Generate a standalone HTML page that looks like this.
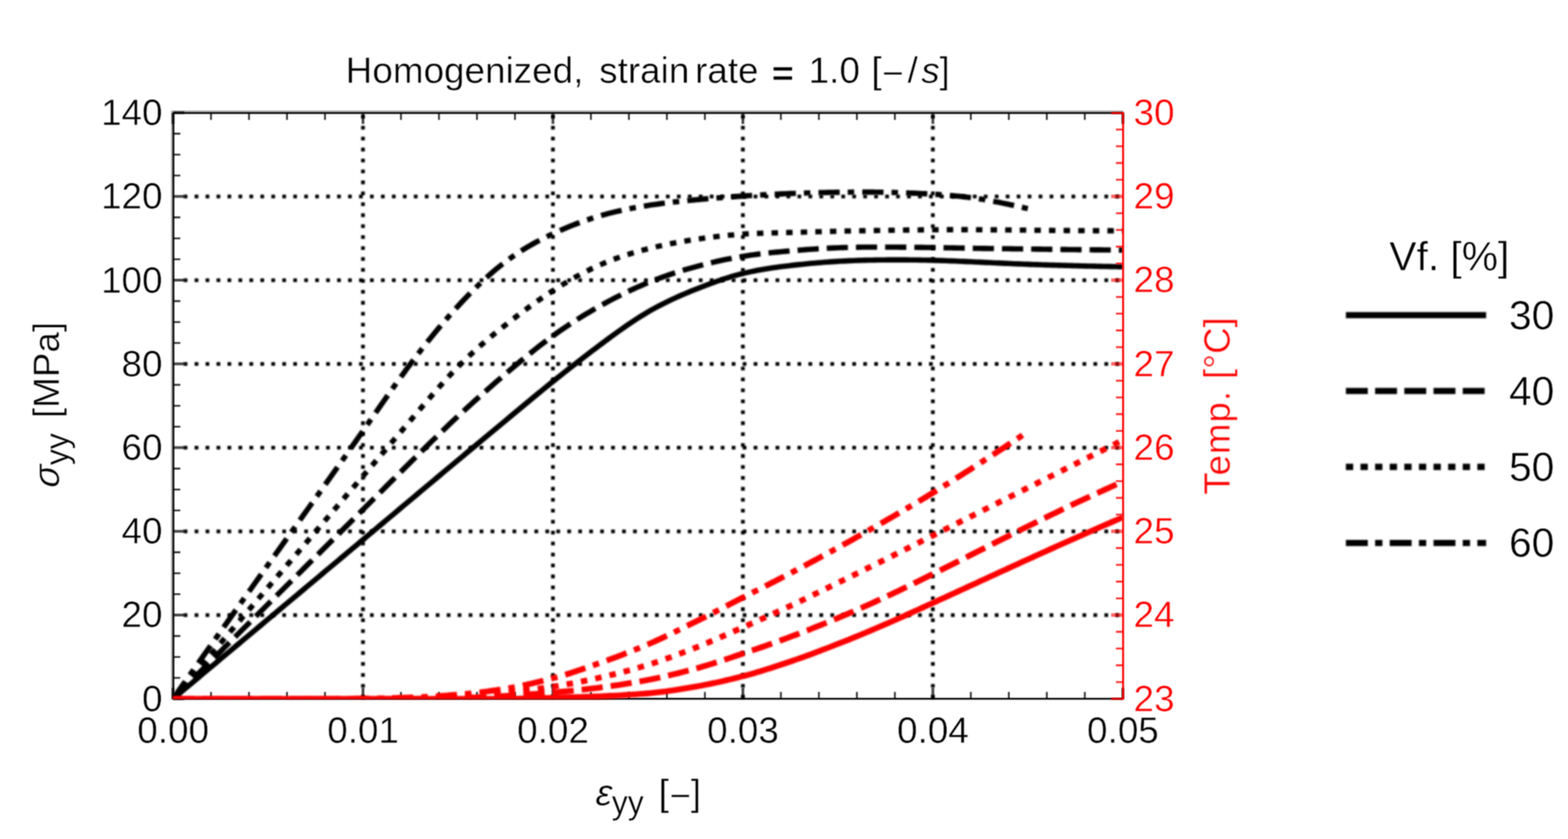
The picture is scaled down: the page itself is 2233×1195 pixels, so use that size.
<!DOCTYPE html>
<html lang="en"><head><meta charset="utf-8"><title>Homogenized, strain rate = 1.0 [-/s]</title>
<style>html,body{margin:0;padding:0;background:#fff;overflow:hidden}svg{display:block}text{font-family:'Liberation Sans', Arial, Helvetica, sans-serif;stroke:#fff;stroke-width:0.55px}</style>
</head><body>
<svg width="2233" height="1195" viewBox="0 0 2233 1195" role="img" aria-label="Stress and temperature versus strain">
<defs>
<clipPath id="clip"><rect x="246.4" y="160.6" width="1352.6" height="835.3"/></clipPath>
<filter id="soft" x="0" y="0" width="2233" height="1195" filterUnits="userSpaceOnUse" color-interpolation-filters="sRGB"><feGaussianBlur stdDeviation="0.95"/></filter>
<filter id="crisp" x="0" y="0" width="2233" height="1195" filterUnits="userSpaceOnUse" color-interpolation-filters="sRGB"><feConvolveMatrix order="3" kernelMatrix="1 2 1 2 4 2 1 2 1" edgeMode="none" preserveAlpha="false"/></filter>
</defs>
<rect x="0" y="0" width="2233" height="1195" fill="#fff"/>
<g filter="url(#soft)" stroke="#000000" stroke-width="5.3" fill="none">
<line x1="261.56" y1="876.06" x2="1599" y2="876.06" stroke-dasharray="5.3 10.31"/>
<line x1="261.56" y1="756.81" x2="1599" y2="756.81" stroke-dasharray="5.3 10.31"/>
<line x1="261.56" y1="637.57" x2="1599" y2="637.57" stroke-dasharray="5.3 10.31"/>
<line x1="261.56" y1="518.33" x2="1599" y2="518.33" stroke-dasharray="5.3 10.31"/>
<line x1="261.56" y1="399.09" x2="1599" y2="399.09" stroke-dasharray="5.3 10.31"/>
<line x1="261.56" y1="279.84" x2="1599" y2="279.84" stroke-dasharray="5.3 10.31"/>
<line x1="516.92" y1="995.13" x2="516.92" y2="160.6" stroke-dasharray="5.3 10.29"/>
<line x1="787.44" y1="995.13" x2="787.44" y2="160.6" stroke-dasharray="5.3 10.29"/>
<line x1="1057.96" y1="995.13" x2="1057.96" y2="160.6" stroke-dasharray="5.3 10.29"/>
<line x1="1328.48" y1="995.13" x2="1328.48" y2="160.6" stroke-dasharray="5.3 10.29"/>
</g>
<g filter="url(#crisp)" fill="none">
<path d="M243.7,158.7H1599.4 M244.8,157.6V996.6" stroke="#a8a8a8" stroke-width="2.2"/>
<path d="M245.75,160.9H1599.4 M247,159.65V996.6 M245.75,995.35H1599.4" stroke="#000000" stroke-width="2.5"/>
<path d="M247,965.49h9.8M247,935.68h9.8M247,905.87h9.8M247,846.25h9.8M247,816.44h9.8M247,786.62h9.8M247,727h9.8M247,697.19h9.8M247,667.38h9.8M247,607.76h9.8M247,577.95h9.8M247,548.14h9.8M247,488.52h9.8M247,458.71h9.8M247,428.9h9.8M247,369.27h9.8M247,339.46h9.8M247,309.65h9.8M247,250.03h9.8M247,220.22h9.8M247,190.41h9.8M300.5,995.35v-9.8M300.5,160.9v9.8M354.61,995.35v-9.8M354.61,160.9v9.8M408.71,995.35v-9.8M408.71,160.9v9.8M462.82,995.35v-9.8M462.82,160.9v9.8M571.02,995.35v-9.8M571.02,160.9v9.8M625.13,995.35v-9.8M625.13,160.9v9.8M679.23,995.35v-9.8M679.23,160.9v9.8M733.34,995.35v-9.8M733.34,160.9v9.8M841.54,995.35v-9.8M841.54,160.9v9.8M895.65,995.35v-9.8M895.65,160.9v9.8M949.75,995.35v-9.8M949.75,160.9v9.8M1003.86,995.35v-9.8M1003.86,160.9v9.8M1112.06,995.35v-9.8M1112.06,160.9v9.8M1166.17,995.35v-9.8M1166.17,160.9v9.8M1220.27,995.35v-9.8M1220.27,160.9v9.8M1274.38,995.35v-9.8M1274.38,160.9v9.8M1382.58,995.35v-9.8M1382.58,160.9v9.8M1436.69,995.35v-9.8M1436.69,160.9v9.8M1490.79,995.35v-9.8M1490.79,160.9v9.8M1544.9,995.35v-9.8M1544.9,160.9v9.8" stroke="#000000" stroke-opacity="0.8" stroke-width="2.6"/>
<path d="M247,995.3h15.5M247,876.06h15.5M247,756.81h15.5M247,637.57h15.5M247,518.33h15.5M247,399.09h15.5M247,279.84h15.5M247,160.6h15.5M246.4,995.35v-15.5M246.4,160.9v15.5M516.92,995.35v-15.5M516.92,160.9v15.5M787.44,995.35v-15.5M787.44,160.9v15.5M1057.96,995.35v-15.5M1057.96,160.9v15.5M1328.48,995.35v-15.5M1328.48,160.9v15.5M1599,995.35v-15.5M1599,160.9v15.5" stroke="#000000" stroke-opacity="0.7" stroke-width="4"/>
</g>
<g filter="url(#soft)" fill="none">
<g clip-path="url(#clip)" stroke-linejoin="round">
<path d="M246.4,995.3L250.92,991.51L255.45,987.72L259.97,983.93L264.49,980.14L269.02,976.35L273.54,972.56L278.07,968.78L282.59,964.99L287.11,961.2L291.64,957.41L296.16,953.62L300.68,949.83L305.21,946.04L309.73,942.25L314.26,938.46L318.78,934.68L323.3,930.89L327.83,927.1L332.35,923.31L336.87,919.52L341.4,915.73L345.92,911.94L350.45,908.16L354.97,904.37L359.49,900.58L364.02,896.79L368.54,893L373.06,889.22L377.59,885.43L382.11,881.64L386.64,877.85L391.16,874.07L395.68,870.28L400.21,866.49L404.73,862.7L409.25,858.92L413.78,855.13L418.3,851.34L422.83,847.55L427.35,843.77L431.87,839.98L436.4,836.19L440.92,832.41L445.44,828.62L449.97,824.83L454.49,821.04L459.02,817.25L463.54,813.46L468.06,809.68L472.59,805.89L477.11,802.1L481.63,798.31L486.16,794.52L490.68,790.73L495.21,786.94L499.73,783.15L504.25,779.36L508.78,775.56L513.3,771.77L517.82,767.98L522.35,764.19L526.87,760.39L531.4,756.6L535.92,752.81L540.44,749.01L544.97,745.22L549.49,741.43L554.01,737.63L558.54,733.84L563.06,730.04L567.59,726.25L572.11,722.46L576.63,718.67L581.16,714.87L585.68,711.08L590.2,707.29L594.73,703.5L599.25,699.71L603.78,695.92L608.3,692.14L612.82,688.35L617.35,684.56L621.87,680.78L626.39,677L630.92,673.21L635.44,669.43L639.97,665.65L644.49,661.88L649.01,658.1L653.54,654.33L658.06,650.55L662.58,646.78L667.11,643.01L671.63,639.24L676.16,635.47L680.68,631.71L685.2,627.94L689.73,624.17L694.25,620.4L698.77,616.64L703.3,612.87L707.82,609.1L712.35,605.33L716.87,601.57L721.39,597.8L725.92,594.03L730.44,590.26L734.96,586.49L739.49,582.72L744.01,578.96L748.54,575.21L753.06,571.46L757.58,567.73L762.11,564L766.63,560.28L771.15,556.58L775.68,552.89L780.2,549.21L784.73,545.56L789.25,541.92L793.77,538.3L798.3,534.69L802.82,531.11L807.34,527.54L811.87,523.99L816.39,520.46L820.92,516.94L825.44,513.44L829.96,509.96L834.49,506.49L839.01,503.04L843.53,499.6L848.06,496.18L852.58,492.77L857.11,489.38L861.63,486L866.15,482.64L870.68,479.31L875.2,476.01L879.72,472.74L884.25,469.52L888.77,466.33L893.3,463.2L897.82,460.13L902.34,457.11L906.87,454.16L911.39,451.27L915.91,448.46L920.44,445.73L924.96,443.08L929.49,440.52L934.01,438.04L938.53,435.63L943.06,433.3L947.58,431.03L952.1,428.82L956.63,426.68L961.15,424.59L965.68,422.56L970.2,420.57L974.72,418.63L979.25,416.72L983.77,414.86L988.29,413.02L992.82,411.21L997.34,409.43L1001.87,407.68L1006.39,405.96L1010.91,404.28L1015.44,402.64L1019.96,401.03L1024.48,399.48L1029.01,397.96L1033.53,396.5L1038.06,395.08L1042.58,393.73L1047.1,392.42L1051.63,391.18L1056.15,390L1060.67,388.88L1065.2,387.83L1069.72,386.84L1074.25,385.91L1078.77,385.02L1083.29,384.19L1087.82,383.41L1092.34,382.67L1096.86,381.97L1101.39,381.3L1105.91,380.67L1110.44,380.07L1114.96,379.49L1119.48,378.94L1124.01,378.4L1128.53,377.88L1133.05,377.38L1137.58,376.89L1142.1,376.42L1146.63,375.96L1151.15,375.52L1155.67,375.09L1160.2,374.69L1164.72,374.3L1169.24,373.92L1173.77,373.57L1178.29,373.23L1182.82,372.91L1187.34,372.62L1191.86,372.34L1196.39,372.08L1200.91,371.84L1205.43,371.61L1209.96,371.41L1214.48,371.22L1219.01,371.05L1223.53,370.9L1228.05,370.76L1232.58,370.64L1237.1,370.53L1241.62,370.44L1246.15,370.35L1250.67,370.28L1255.2,370.23L1259.72,370.18L1264.24,370.14L1268.77,370.12L1273.29,370.1L1277.81,370.09L1282.34,370.1L1286.86,370.11L1291.39,370.14L1295.91,370.18L1300.43,370.23L1304.96,370.28L1309.48,370.35L1314,370.43L1318.53,370.52L1323.05,370.63L1327.58,370.74L1332.1,370.87L1336.62,371L1341.15,371.15L1345.67,371.3L1350.19,371.47L1354.72,371.64L1359.24,371.82L1363.77,372L1368.29,372.19L1372.81,372.39L1377.34,372.59L1381.86,372.79L1386.38,373L1390.91,373.21L1395.43,373.42L1399.96,373.63L1404.48,373.84L1409,374.05L1413.53,374.26L1418.05,374.47L1422.57,374.67L1427.1,374.88L1431.62,375.08L1436.15,375.28L1440.67,375.48L1445.19,375.68L1449.72,375.87L1454.24,376.05L1458.76,376.24L1463.29,376.41L1467.81,376.58L1472.34,376.75L1476.86,376.91L1481.38,377.07L1485.91,377.22L1490.43,377.36L1494.95,377.51L1499.48,377.64L1504,377.78L1508.53,377.91L1513.05,378.04L1517.57,378.16L1522.1,378.28L1526.62,378.4L1531.14,378.51L1535.67,378.62L1540.19,378.73L1544.72,378.84L1549.24,378.94L1553.76,379.05L1558.29,379.15L1562.81,379.25L1567.33,379.34L1571.86,379.44L1576.38,379.54L1580.91,379.63L1585.43,379.73L1589.95,379.82L1594.48,379.91L1599,380.01" stroke="#000000" stroke-width="7.6"/>
<path d="M246.4,995.3L250.92,990.79L255.45,986.28L259.97,981.78L264.49,977.27L269.02,972.76L273.54,968.26L278.07,963.75L282.59,959.24L287.11,954.73L291.64,950.23L296.16,945.72L300.68,941.21L305.21,936.7L309.73,932.2L314.26,927.69L318.78,923.18L323.3,918.68L327.83,914.17L332.35,909.66L336.87,905.16L341.4,900.65L345.92,896.15L350.45,891.64L354.97,887.14L359.49,882.63L364.02,878.12L368.54,873.62L373.06,869.11L377.59,864.61L382.11,860.11L386.64,855.6L391.16,851.1L395.68,846.59L400.21,842.09L404.73,837.58L409.25,833.08L413.78,828.58L418.3,824.07L422.83,819.57L427.35,815.07L431.87,810.56L436.4,806.06L440.92,801.55L445.44,797.05L449.97,792.54L454.49,788.04L459.02,783.53L463.54,779.02L468.06,774.52L472.59,770.01L477.11,765.5L481.63,761L486.16,756.49L490.68,751.98L495.21,747.47L499.73,742.96L504.25,738.45L508.78,733.93L513.3,729.42L517.82,724.91L522.35,720.39L526.87,715.88L531.4,711.36L535.92,706.85L540.44,702.34L544.97,697.82L549.49,693.31L554.01,688.8L558.54,684.3L563.06,679.79L567.59,675.29L572.11,670.79L576.63,666.3L581.16,661.8L585.68,657.32L590.2,652.84L594.73,648.36L599.25,643.89L603.78,639.44L608.3,634.99L612.82,630.56L617.35,626.15L621.87,621.75L626.39,617.37L630.92,613.01L635.44,608.67L639.97,604.36L644.49,600.08L649.01,595.82L653.54,591.59L658.06,587.39L662.58,583.22L667.11,579.08L671.63,574.97L676.16,570.88L680.68,566.82L685.2,562.79L689.73,558.77L694.25,554.79L698.77,550.82L703.3,546.87L707.82,542.95L712.35,539.04L716.87,535.16L721.39,531.29L725.92,527.43L730.44,523.6L734.96,519.8L739.49,516.02L744.01,512.27L748.54,508.55L753.06,504.87L757.58,501.23L762.11,497.63L766.63,494.07L771.15,490.56L775.68,487.11L780.2,483.71L784.73,480.36L789.25,477.08L793.77,473.85L798.3,470.69L802.82,467.58L807.34,464.53L811.87,461.54L816.39,458.6L820.92,455.71L825.44,452.88L829.96,450.09L834.49,447.35L839.01,444.66L843.53,442.01L848.06,439.41L852.58,436.85L857.11,434.33L861.63,431.85L866.15,429.41L870.68,427.01L875.2,424.65L879.72,422.34L884.25,420.07L888.77,417.85L893.3,415.67L897.82,413.54L902.34,411.45L906.87,409.41L911.39,407.42L915.91,405.48L920.44,403.59L924.96,401.75L929.49,399.96L934.01,398.21L938.53,396.52L943.06,394.87L947.58,393.26L952.1,391.7L956.63,390.18L961.15,388.69L965.68,387.25L970.2,385.85L974.72,384.48L979.25,383.14L983.77,381.84L988.29,380.57L992.82,379.33L997.34,378.12L1001.87,376.94L1006.39,375.79L1010.91,374.67L1015.44,373.59L1019.96,372.54L1024.48,371.52L1029.01,370.54L1033.53,369.59L1038.06,368.68L1042.58,367.8L1047.1,366.96L1051.63,366.16L1056.15,365.4L1060.67,364.67L1065.2,363.98L1069.72,363.33L1074.25,362.71L1078.77,362.12L1083.29,361.56L1087.82,361.03L1092.34,360.52L1096.86,360.04L1101.39,359.57L1105.91,359.13L1110.44,358.7L1114.96,358.28L1119.48,357.88L1124.01,357.49L1128.53,357.1L1133.05,356.72L1137.58,356.35L1142.1,355.99L1146.63,355.64L1151.15,355.3L1155.67,354.98L1160.2,354.67L1164.72,354.37L1169.24,354.08L1173.77,353.82L1178.29,353.57L1182.82,353.34L1187.34,353.12L1191.86,352.93L1196.39,352.76L1200.91,352.61L1205.43,352.48L1209.96,352.37L1214.48,352.27L1219.01,352.19L1223.53,352.12L1228.05,352.07L1232.58,352.03L1237.1,352L1241.62,351.98L1246.15,351.97L1250.67,351.97L1255.2,351.97L1259.72,351.98L1264.24,351.99L1268.77,352.01L1273.29,352.03L1277.81,352.05L1282.34,352.08L1286.86,352.11L1291.39,352.15L1295.91,352.19L1300.43,352.23L1304.96,352.28L1309.48,352.33L1314,352.38L1318.53,352.44L1323.05,352.5L1327.58,352.57L1332.1,352.64L1336.62,352.71L1341.15,352.79L1345.67,352.87L1350.19,352.95L1354.72,353.03L1359.24,353.11L1363.77,353.2L1368.29,353.28L1372.81,353.36L1377.34,353.45L1381.86,353.53L1386.38,353.61L1390.91,353.69L1395.43,353.76L1399.96,353.83L1404.48,353.9L1409,353.97L1413.53,354.03L1418.05,354.09L1422.57,354.15L1427.1,354.21L1431.62,354.27L1436.15,354.32L1440.67,354.38L1445.19,354.44L1449.72,354.49L1454.24,354.55L1458.76,354.6L1463.29,354.66L1467.81,354.72L1472.34,354.78L1476.86,354.84L1481.38,354.9L1485.91,354.97L1490.43,355.03L1494.95,355.09L1499.48,355.15L1504,355.22L1508.53,355.28L1513.05,355.34L1517.57,355.39L1522.1,355.45L1526.62,355.51L1531.14,355.56L1535.67,355.61L1540.19,355.66L1544.72,355.7L1549.24,355.75L1553.76,355.79L1558.29,355.83L1562.81,355.87L1567.33,355.91L1571.86,355.95L1576.38,355.98L1580.91,356.02L1585.43,356.06L1589.95,356.09L1594.48,356.12L1599,356.16" stroke="#000000" stroke-width="7.6" stroke-dasharray="30.2 11.4"/>
<path d="M246.4,995.3L250.92,990L255.45,984.69L259.97,979.39L264.49,974.09L269.02,968.79L273.54,963.48L278.07,958.18L282.59,952.88L287.11,947.58L291.64,942.27L296.16,936.97L300.68,931.67L305.21,926.36L309.73,921.06L314.26,915.76L318.78,910.45L323.3,905.15L327.83,899.84L332.35,894.54L336.87,889.23L341.4,883.93L345.92,878.62L350.45,873.32L354.97,868.01L359.49,862.71L364.02,857.4L368.54,852.1L373.06,846.79L377.59,841.48L382.11,836.18L386.64,830.87L391.16,825.56L395.68,820.25L400.21,814.95L404.73,809.64L409.25,804.33L413.78,799.02L418.3,793.71L422.83,788.41L427.35,783.1L431.87,777.79L436.4,772.48L440.92,767.18L445.44,761.87L449.97,756.56L454.49,751.26L459.02,745.95L463.54,740.65L468.06,735.34L472.59,730.04L477.11,724.74L481.63,719.44L486.16,714.14L490.68,708.83L495.21,703.54L499.73,698.24L504.25,692.94L508.78,687.64L513.3,682.35L517.82,677.06L522.35,671.76L526.87,666.47L531.4,661.18L535.92,655.89L540.44,650.59L544.97,645.3L549.49,640L554.01,634.7L558.54,629.4L563.06,624.09L567.59,618.78L572.11,613.46L576.63,608.14L581.16,602.82L585.68,597.48L590.2,592.15L594.73,586.81L599.25,581.49L603.78,576.18L608.3,570.9L612.82,565.65L617.35,560.44L621.87,555.28L626.39,550.18L630.92,545.13L635.44,540.16L639.97,535.27L644.49,530.46L649.01,525.74L653.54,521.13L658.06,516.62L662.58,512.2L667.11,507.89L671.63,503.66L676.16,499.51L680.68,495.45L685.2,491.46L689.73,487.54L694.25,483.68L698.77,479.89L703.3,476.14L707.82,472.45L712.35,468.81L716.87,465.2L721.39,461.64L725.92,458.1L730.44,454.6L734.96,451.13L739.49,447.7L744.01,444.31L748.54,440.96L753.06,437.65L757.58,434.38L762.11,431.16L766.63,427.98L771.15,424.85L775.68,421.77L780.2,418.73L784.73,415.75L789.25,412.83L793.77,409.95L798.3,407.13L802.82,404.37L807.34,401.67L811.87,399.03L816.39,396.44L820.92,393.92L825.44,391.47L829.96,389.07L834.49,386.75L839.01,384.49L843.53,382.29L848.06,380.17L852.58,378.12L857.11,376.14L861.63,374.24L866.15,372.4L870.68,370.63L875.2,368.93L879.72,367.29L884.25,365.71L888.77,364.18L893.3,362.72L897.82,361.3L902.34,359.94L906.87,358.62L911.39,357.35L915.91,356.13L920.44,354.95L924.96,353.8L929.49,352.7L934.01,351.63L938.53,350.59L943.06,349.59L947.58,348.62L952.1,347.69L956.63,346.79L961.15,345.91L965.68,345.07L970.2,344.26L974.72,343.47L979.25,342.71L983.77,341.98L988.29,341.27L992.82,340.58L997.34,339.92L1001.87,339.28L1006.39,338.66L1010.91,338.07L1015.44,337.51L1019.96,336.97L1024.48,336.46L1029.01,335.97L1033.53,335.51L1038.06,335.08L1042.58,334.67L1047.1,334.29L1051.63,333.94L1056.15,333.62L1060.67,333.33L1065.2,333.07L1069.72,332.83L1074.25,332.62L1078.77,332.42L1083.29,332.25L1087.82,332.09L1092.34,331.95L1096.86,331.82L1101.39,331.69L1105.91,331.58L1110.44,331.47L1114.96,331.37L1119.48,331.26L1124.01,331.16L1128.53,331.05L1133.05,330.93L1137.58,330.81L1142.1,330.69L1146.63,330.57L1151.15,330.44L1155.67,330.32L1160.2,330.19L1164.72,330.07L1169.24,329.94L1173.77,329.82L1178.29,329.7L1182.82,329.58L1187.34,329.47L1191.86,329.36L1196.39,329.26L1200.91,329.16L1205.43,329.06L1209.96,328.97L1214.48,328.89L1219.01,328.81L1223.53,328.73L1228.05,328.65L1232.58,328.58L1237.1,328.5L1241.62,328.43L1246.15,328.36L1250.67,328.29L1255.2,328.22L1259.72,328.15L1264.24,328.08L1268.77,328.01L1273.29,327.94L1277.81,327.87L1282.34,327.8L1286.86,327.74L1291.39,327.67L1295.91,327.6L1300.43,327.54L1304.96,327.48L1309.48,327.43L1314,327.38L1318.53,327.33L1323.05,327.29L1327.58,327.25L1332.1,327.22L1336.62,327.19L1341.15,327.17L1345.67,327.15L1350.19,327.14L1354.72,327.13L1359.24,327.13L1363.77,327.13L1368.29,327.13L1372.81,327.14L1377.34,327.15L1381.86,327.17L1386.38,327.19L1390.91,327.21L1395.43,327.24L1399.96,327.27L1404.48,327.3L1409,327.33L1413.53,327.36L1418.05,327.4L1422.57,327.44L1427.1,327.48L1431.62,327.52L1436.15,327.56L1440.67,327.61L1445.19,327.65L1449.72,327.7L1454.24,327.74L1458.76,327.79L1463.29,327.83L1467.81,327.88L1472.34,327.92L1476.86,327.97L1481.38,328.01L1485.91,328.06L1490.43,328.1L1494.95,328.14L1499.48,328.18L1504,328.22L1508.53,328.26L1513.05,328.3L1517.57,328.34L1522.1,328.37L1526.62,328.4L1531.14,328.43L1535.67,328.46L1540.19,328.49L1544.72,328.51L1549.24,328.54L1553.76,328.56L1558.29,328.58L1562.81,328.6L1567.33,328.62L1571.86,328.64L1576.38,328.65L1580.91,328.67L1585.43,328.69L1589.95,328.7L1594.48,328.72L1599,328.73" stroke="#000000" stroke-width="7.6" stroke-dasharray="9.2 11.6"/>
<path d="M246.4,995.3L250.47,989.54L254.54,983.79L258.61,978.03L262.69,972.27L266.76,966.51L270.83,960.76L274.9,955L278.97,949.25L283.04,943.49L287.11,937.74L291.19,931.99L295.26,926.23L299.33,920.48L303.4,914.73L307.47,908.98L311.54,903.24L315.61,897.49L319.68,891.74L323.76,886L327.83,880.26L331.9,874.52L335.97,868.78L340.04,863.04L344.11,857.31L348.18,851.57L352.26,845.84L356.33,840.11L360.4,834.38L364.47,828.66L368.54,822.94L372.61,817.21L376.68,811.5L380.76,805.78L384.83,800.07L388.9,794.36L392.97,788.65L397.04,782.94L401.11,777.24L405.18,771.53L409.25,765.83L413.33,760.12L417.4,754.41L421.47,748.71L425.54,743L429.61,737.29L433.68,731.58L437.75,725.87L441.83,720.15L445.9,714.43L449.97,708.71L454.04,702.98L458.11,697.25L462.18,691.51L466.25,685.77L470.33,680.02L474.4,674.27L478.47,668.51L482.54,662.74L486.61,656.97L490.68,651.19L494.75,645.4L498.83,639.6L502.9,633.8L506.97,627.98L511.04,622.15L515.11,616.32L519.18,610.47L523.25,604.62L527.32,598.76L531.4,592.91L535.47,587.05L539.54,581.21L543.61,575.37L547.68,569.56L551.75,563.76L555.82,557.99L559.9,552.25L563.97,546.54L568.04,540.87L572.11,535.24L576.18,529.65L580.25,524.11L584.32,518.63L588.4,513.21L592.47,507.84L596.54,502.53L600.61,497.28L604.68,492.09L608.75,486.96L612.82,481.89L616.89,476.88L620.97,471.93L625.04,467.04L629.11,462.21L633.18,457.45L637.25,452.75L641.32,448.11L645.39,443.54L649.47,439.02L653.54,434.58L657.61,430.19L661.68,425.88L665.75,421.63L669.82,417.46L673.89,413.36L677.97,409.33L682.04,405.38L686.11,401.51L690.18,397.73L694.25,394.03L698.32,390.41L702.39,386.89L706.46,383.45L710.54,380.11L714.61,376.86L718.68,373.71L722.75,370.66L726.82,367.7L730.89,364.84L734.96,362.07L739.04,359.39L743.11,356.79L747.18,354.27L751.25,351.83L755.32,349.46L759.39,347.15L763.46,344.92L767.54,342.75L771.61,340.63L775.68,338.57L779.75,336.57L783.82,334.61L787.89,332.7L791.96,330.82L796.04,329L800.11,327.21L804.18,325.46L808.25,323.76L812.32,322.1L816.39,320.49L820.46,318.91L824.53,317.38L828.61,315.89L832.68,314.45L836.75,313.04L840.82,311.68L844.89,310.37L848.96,309.1L853.03,307.87L857.11,306.68L861.18,305.54L865.25,304.44L869.32,303.38L873.39,302.36L877.46,301.38L881.53,300.43L885.61,299.52L889.68,298.65L893.75,297.81L897.82,297L901.89,296.22L905.96,295.47L910.03,294.74L914.1,294.05L918.18,293.38L922.25,292.73L926.32,292.11L930.39,291.51L934.46,290.93L938.53,290.37L942.6,289.83L946.68,289.31L950.75,288.8L954.82,288.31L958.89,287.84L962.96,287.38L967.03,286.94L971.1,286.51L975.18,286.09L979.25,285.68L983.32,285.28L987.39,284.89L991.46,284.51L995.53,284.13L999.6,283.76L1003.68,283.4L1007.75,283.05L1011.82,282.7L1015.89,282.36L1019.96,282.03L1024.03,281.71L1028.1,281.39L1032.17,281.07L1036.25,280.77L1040.32,280.47L1044.39,280.18L1048.46,279.89L1052.53,279.61L1056.6,279.34L1060.67,279.07L1064.75,278.81L1068.82,278.55L1072.89,278.3L1076.96,278.06L1081.03,277.83L1085.1,277.6L1089.17,277.37L1093.25,277.16L1097.32,276.95L1101.39,276.74L1105.46,276.55L1109.53,276.35L1113.6,276.17L1117.67,275.99L1121.74,275.82L1125.82,275.66L1129.89,275.5L1133.96,275.35L1138.03,275.21L1142.1,275.07L1146.17,274.94L1150.24,274.82L1154.32,274.7L1158.39,274.59L1162.46,274.49L1166.53,274.39L1170.6,274.29L1174.67,274.21L1178.74,274.12L1182.82,274.05L1186.89,273.98L1190.96,273.91L1195.03,273.86L1199.1,273.8L1203.17,273.75L1207.24,273.71L1211.31,273.68L1215.39,273.65L1219.46,273.63L1223.53,273.61L1227.6,273.61L1231.67,273.61L1235.74,273.62L1239.81,273.64L1243.89,273.67L1247.96,273.7L1252.03,273.75L1256.1,273.8L1260.17,273.87L1264.24,273.94L1268.31,274.03L1272.39,274.13L1276.46,274.23L1280.53,274.35L1284.6,274.48L1288.67,274.62L1292.74,274.77L1296.81,274.93L1300.89,275.1L1304.96,275.29L1309.03,275.48L1313.1,275.69L1317.17,275.9L1321.24,276.13L1325.31,276.37L1329.38,276.62L1333.46,276.88L1337.53,277.16L1341.6,277.45L1345.67,277.76L1349.74,278.08L1353.81,278.42L1357.88,278.78L1361.96,279.17L1366.03,279.57L1370.1,280L1374.17,280.46L1378.24,280.94L1382.31,281.46L1386.38,282L1390.46,282.57L1394.53,283.18L1398.6,283.81L1402.67,284.49L1406.74,285.19L1410.81,285.92L1414.88,286.68L1418.95,287.46L1423.03,288.27L1427.1,289.1L1431.17,289.94L1435.24,290.81L1439.31,291.68L1443.38,292.57L1447.45,293.47L1451.53,294.38L1455.6,295.29L1459.67,296.21L1463.74,297.13" stroke="#000000" stroke-width="7.6" stroke-dasharray="30.2 11.4 9.2 11.6"/>
<path d="M246.4,995.3L250.92,995.3L255.45,995.3L259.97,995.3L264.49,995.3L269.02,995.3L273.54,995.3L278.07,995.3L282.59,995.3L287.11,995.3L291.64,995.3L296.16,995.3L300.68,995.3L305.21,995.3L309.73,995.3L314.26,995.3L318.78,995.3L323.3,995.3L327.83,995.3L332.35,995.3L336.87,995.3L341.4,995.3L345.92,995.3L350.45,995.3L354.97,995.3L359.49,995.3L364.02,995.3L368.54,995.3L373.06,995.3L377.59,995.3L382.11,995.3L386.64,995.3L391.16,995.3L395.68,995.3L400.21,995.3L404.73,995.3L409.25,995.3L413.78,995.3L418.3,995.3L422.83,995.3L427.35,995.3L431.87,995.3L436.4,995.3L440.92,995.3L445.44,995.3L449.97,995.3L454.49,995.3L459.02,995.3L463.54,995.3L468.06,995.3L472.59,995.3L477.11,995.3L481.63,995.3L486.16,995.3L490.68,995.3L495.21,995.3L499.73,995.3L504.25,995.3L508.78,995.3L513.3,995.3L517.82,995.3L522.35,995.3L526.87,995.3L531.4,995.3L535.92,995.3L540.44,995.3L544.97,995.3L549.49,995.3L554.01,995.3L558.54,995.3L563.06,995.3L567.59,995.3L572.11,995.3L576.63,995.3L581.16,995.3L585.68,995.3L590.2,995.3L594.73,995.3L599.25,995.3L603.78,995.3L608.3,995.3L612.82,995.3L617.35,995.3L621.87,995.3L626.39,995.3L630.92,995.3L635.44,995.3L639.97,995.3L644.49,995.3L649.01,995.3L653.54,995.3L658.06,995.3L662.58,995.3L667.11,995.3L671.63,995.3L676.16,995.3L680.68,995.3L685.2,995.3L689.73,995.3L694.25,995.3L698.77,995.3L703.3,995.3L707.82,995.3L712.35,995.3L716.87,995.3L721.39,995.3L725.92,995.28L730.44,995.24L734.96,995.18L739.49,995.11L744.01,995.02L748.54,994.92L753.06,994.81L757.58,994.7L762.11,994.57L766.63,994.45L771.15,994.32L775.68,994.19L780.2,994.06L784.73,993.94L789.25,993.82L793.77,993.71L798.3,993.59L802.82,993.47L807.34,993.34L811.87,993.21L816.39,993.08L820.92,992.95L825.44,992.8L829.96,992.66L834.49,992.51L839.01,992.35L843.53,992.18L848.06,992.01L852.58,991.83L857.11,991.64L861.63,991.44L866.15,991.23L870.68,991.01L875.2,990.78L879.72,990.54L884.25,990.28L888.77,990.01L893.3,989.73L897.82,989.44L902.34,989.13L906.87,988.81L911.39,988.47L915.91,988.11L920.44,987.74L924.96,987.35L929.49,986.91L934.01,986.44L938.53,985.92L943.06,985.36L947.58,984.77L952.1,984.14L956.63,983.49L961.15,982.81L965.68,982.11L970.2,981.39L974.72,980.65L979.25,979.9L983.77,979.13L988.29,978.36L992.82,977.58L997.34,976.76L1001.87,975.91L1006.39,975.03L1010.91,974.12L1015.44,973.17L1019.96,972.2L1024.48,971.2L1029.01,970.18L1033.53,969.13L1038.06,968.06L1042.58,966.96L1047.1,965.85L1051.63,964.72L1056.15,963.57L1060.67,962.4L1065.2,961.19L1069.72,959.94L1074.25,958.65L1078.77,957.32L1083.29,955.96L1087.82,954.58L1092.34,953.16L1096.86,951.73L1101.39,950.27L1105.91,948.8L1110.44,947.3L1114.96,945.8L1119.48,944.29L1124.01,942.77L1128.53,941.24L1133.05,939.69L1137.58,938.11L1142.1,936.5L1146.63,934.88L1151.15,933.23L1155.67,931.56L1160.2,929.88L1164.72,928.18L1169.24,926.47L1173.77,924.74L1178.29,923L1182.82,921.25L1187.34,919.49L1191.86,917.73L1196.39,915.95L1200.91,914.16L1205.43,912.36L1209.96,910.53L1214.48,908.7L1219.01,906.84L1223.53,904.98L1228.05,903.1L1232.58,901.21L1237.1,899.31L1241.62,897.4L1246.15,895.48L1250.67,893.55L1255.2,891.61L1259.72,889.66L1264.24,887.71L1268.77,885.73L1273.29,883.74L1277.81,881.74L1282.34,879.72L1286.86,877.69L1291.39,875.65L1295.91,873.6L1300.43,871.54L1304.96,869.48L1309.48,867.42L1314,865.36L1318.53,863.3L1323.05,861.24L1327.58,859.18L1332.1,857.12L1336.62,855.06L1341.15,853L1345.67,850.93L1350.19,848.86L1354.72,846.78L1359.24,844.71L1363.77,842.63L1368.29,840.55L1372.81,838.47L1377.34,836.39L1381.86,834.31L1386.38,832.23L1390.91,830.15L1395.43,828.07L1399.96,826L1404.48,823.92L1409,821.84L1413.53,819.76L1418.05,817.68L1422.57,815.6L1427.1,813.52L1431.62,811.45L1436.15,809.37L1440.67,807.29L1445.19,805.22L1449.72,803.15L1454.24,801.08L1458.76,799.02L1463.29,796.97L1467.81,794.91L1472.34,792.86L1476.86,790.81L1481.38,788.77L1485.91,786.72L1490.43,784.68L1494.95,782.64L1499.48,780.6L1504,778.57L1508.53,776.54L1513.05,774.51L1517.57,772.49L1522.1,770.48L1526.62,768.46L1531.14,766.45L1535.67,764.45L1540.19,762.45L1544.72,760.45L1549.24,758.46L1553.76,756.47L1558.29,754.49L1562.81,752.5L1567.33,750.52L1571.86,748.55L1576.38,746.58L1580.91,744.61L1585.43,742.65L1589.95,740.69L1594.48,738.73L1599,736.78" stroke="#ff0000" stroke-width="8.3"/>
<path d="M246.4,995.3L250.92,995.3L255.45,995.3L259.97,995.3L264.49,995.3L269.02,995.3L273.54,995.3L278.07,995.3L282.59,995.3L287.11,995.3L291.64,995.3L296.16,995.3L300.68,995.3L305.21,995.3L309.73,995.3L314.26,995.3L318.78,995.3L323.3,995.3L327.83,995.3L332.35,995.3L336.87,995.3L341.4,995.3L345.92,995.3L350.45,995.3L354.97,995.3L359.49,995.3L364.02,995.3L368.54,995.3L373.06,995.3L377.59,995.3L382.11,995.3L386.64,995.3L391.16,995.3L395.68,995.3L400.21,995.3L404.73,995.3L409.25,995.3L413.78,995.3L418.3,995.3L422.83,995.3L427.35,995.3L431.87,995.3L436.4,995.3L440.92,995.3L445.44,995.3L449.97,995.3L454.49,995.3L459.02,995.3L463.54,995.3L468.06,995.3L472.59,995.3L477.11,995.3L481.63,995.3L486.16,995.3L490.68,995.3L495.21,995.3L499.73,995.3L504.25,995.3L508.78,995.3L513.3,995.3L517.82,995.3L522.35,995.3L526.87,995.3L531.4,995.3L535.92,995.3L540.44,995.3L544.97,995.3L549.49,995.3L554.01,995.3L558.54,995.3L563.06,995.3L567.59,995.3L572.11,995.3L576.63,995.3L581.16,995.3L585.68,995.3L590.2,995.29L594.73,995.26L599.25,995.22L603.78,995.16L608.3,995.1L612.82,995.02L617.35,994.94L621.87,994.84L626.39,994.74L630.92,994.64L635.44,994.53L639.97,994.42L644.49,994.3L649.01,994.19L653.54,994.07L658.06,993.95L662.58,993.8L667.11,993.65L671.63,993.48L676.16,993.3L680.68,993.1L685.2,992.9L689.73,992.69L694.25,992.47L698.77,992.24L703.3,992.01L707.82,991.77L712.35,991.53L716.87,991.29L721.39,991.04L725.92,990.79L730.44,990.52L734.96,990.24L739.49,989.96L744.01,989.66L748.54,989.35L753.06,989.04L757.58,988.71L762.11,988.38L766.63,988.04L771.15,987.69L775.68,987.33L780.2,986.96L784.73,986.59L789.25,986.2L793.77,985.81L798.3,985.4L802.82,984.98L807.34,984.55L811.87,984.1L816.39,983.64L820.92,983.17L825.44,982.69L829.96,982.19L834.49,981.68L839.01,981.16L843.53,980.62L848.06,980.08L852.58,979.52L857.11,978.94L861.63,978.35L866.15,977.74L870.68,977.11L875.2,976.46L879.72,975.79L884.25,975.1L888.77,974.39L893.3,973.66L897.82,972.92L902.34,972.15L906.87,971.37L911.39,970.56L915.91,969.74L920.44,968.9L924.96,968.04L929.49,967.14L934.01,966.21L938.53,965.24L943.06,964.24L947.58,963.22L952.1,962.16L956.63,961.08L961.15,959.98L965.68,958.85L970.2,957.7L974.72,956.53L979.25,955.35L983.77,954.14L988.29,952.93L992.82,951.69L997.34,950.41L1001.87,949.1L1006.39,947.75L1010.91,946.36L1015.44,944.95L1019.96,943.51L1024.48,942.06L1029.01,940.58L1033.53,939.08L1038.06,937.58L1042.58,936.07L1047.1,934.55L1051.63,933.03L1056.15,931.51L1060.67,930L1065.2,928.48L1069.72,926.95L1074.25,925.4L1078.77,923.85L1083.29,922.28L1087.82,920.71L1092.34,919.12L1096.86,917.52L1101.39,915.9L1105.91,914.28L1110.44,912.64L1114.96,910.99L1119.48,909.33L1124.01,907.65L1128.53,905.96L1133.05,904.25L1137.58,902.53L1142.1,900.79L1146.63,899.04L1151.15,897.28L1155.67,895.5L1160.2,893.7L1164.72,891.9L1169.24,890.08L1173.77,888.25L1178.29,886.4L1182.82,884.55L1187.34,882.68L1191.86,880.8L1196.39,878.9L1200.91,877L1205.43,875.07L1209.96,873.14L1214.48,871.19L1219.01,869.22L1223.53,867.24L1228.05,865.25L1232.58,863.24L1237.1,861.22L1241.62,859.19L1246.15,857.15L1250.67,855.09L1255.2,853.02L1259.72,850.94L1264.24,848.85L1268.77,846.73L1273.29,844.6L1277.81,842.44L1282.34,840.27L1286.86,838.09L1291.39,835.89L1295.91,833.68L1300.43,831.47L1304.96,829.24L1309.48,827.01L1314,824.78L1318.53,822.55L1323.05,820.31L1327.58,818.07L1332.1,815.84L1336.62,813.59L1341.15,811.34L1345.67,809.08L1350.19,806.81L1354.72,804.53L1359.24,802.25L1363.77,799.97L1368.29,797.68L1372.81,795.4L1377.34,793.11L1381.86,790.83L1386.38,788.54L1390.91,786.26L1395.43,783.98L1399.96,781.71L1404.48,779.43L1409,777.15L1413.53,774.86L1418.05,772.58L1422.57,770.29L1427.1,768L1431.62,765.72L1436.15,763.44L1440.67,761.16L1445.19,758.89L1449.72,756.63L1454.24,754.37L1458.76,752.12L1463.29,749.88L1467.81,747.65L1472.34,745.42L1476.86,743.2L1481.38,740.97L1485.91,738.75L1490.43,736.54L1494.95,734.33L1499.48,732.13L1504,729.94L1508.53,727.75L1513.05,725.58L1517.57,723.41L1522.1,721.25L1526.62,719.11L1531.14,716.97L1535.67,714.85L1540.19,712.73L1544.72,710.63L1549.24,708.53L1553.76,706.44L1558.29,704.35L1562.81,702.28L1567.33,700.21L1571.86,698.15L1576.38,696.1L1580.91,694.06L1585.43,692.03L1589.95,690.01L1594.48,687.99L1599,685.98" stroke="#ff0000" stroke-width="8.3" stroke-dasharray="30.2 11.4"/>
<path d="M246.4,995.3L250.92,995.3L255.45,995.3L259.97,995.3L264.49,995.3L269.02,995.3L273.54,995.3L278.07,995.3L282.59,995.3L287.11,995.3L291.64,995.3L296.16,995.3L300.68,995.3L305.21,995.3L309.73,995.3L314.26,995.3L318.78,995.3L323.3,995.3L327.83,995.3L332.35,995.3L336.87,995.3L341.4,995.3L345.92,995.3L350.45,995.3L354.97,995.3L359.49,995.3L364.02,995.3L368.54,995.3L373.06,995.3L377.59,995.3L382.11,995.3L386.64,995.3L391.16,995.3L395.68,995.3L400.21,995.3L404.73,995.3L409.25,995.3L413.78,995.3L418.3,995.3L422.83,995.3L427.35,995.3L431.87,995.3L436.4,995.3L440.92,995.3L445.44,995.3L449.97,995.3L454.49,995.3L459.02,995.3L463.54,995.3L468.06,995.3L472.59,995.3L477.11,995.3L481.63,995.3L486.16,995.3L490.68,995.3L495.21,995.3L499.73,995.3L504.25,995.3L508.78,995.3L513.3,995.3L517.82,995.3L522.35,995.29L526.87,995.28L531.4,995.27L535.92,995.24L540.44,995.21L544.97,995.18L549.49,995.14L554.01,995.09L558.54,995.05L563.06,994.99L567.59,994.94L572.11,994.88L576.63,994.82L581.16,994.75L585.68,994.69L590.2,994.6L594.73,994.49L599.25,994.35L603.78,994.19L608.3,994.02L612.82,993.83L617.35,993.62L621.87,993.4L626.39,993.16L630.92,992.92L635.44,992.67L639.97,992.42L644.49,992.16L649.01,991.9L653.54,991.65L658.06,991.38L662.58,991.09L667.11,990.79L671.63,990.47L676.16,990.14L680.68,989.8L685.2,989.44L689.73,989.07L694.25,988.69L698.77,988.3L703.3,987.9L707.82,987.49L712.35,987.07L716.87,986.64L721.39,986.2L725.92,985.75L730.44,985.29L734.96,984.8L739.49,984.3L744.01,983.79L748.54,983.26L753.06,982.71L757.58,982.15L762.11,981.57L766.63,980.97L771.15,980.36L775.68,979.73L780.2,979.08L784.73,978.42L789.25,977.73L793.77,977.02L798.3,976.28L802.82,975.5L807.34,974.7L811.87,973.87L816.39,973.01L820.92,972.13L825.44,971.23L829.96,970.31L834.49,969.37L839.01,968.41L843.53,967.44L848.06,966.45L852.58,965.45L857.11,964.44L861.63,963.4L866.15,962.34L870.68,961.25L875.2,960.15L879.72,959.01L884.25,957.85L888.77,956.67L893.3,955.46L897.82,954.23L902.34,952.97L906.87,951.69L911.39,950.38L915.91,949.05L920.44,947.69L924.96,946.31L929.49,944.88L934.01,943.41L938.53,941.89L943.06,940.34L947.58,938.75L952.1,937.13L956.63,935.48L961.15,933.8L965.68,932.1L970.2,930.38L974.72,928.64L979.25,926.89L983.77,925.13L988.29,923.36L992.82,921.58L997.34,919.77L1001.87,917.93L1006.39,916.06L1010.91,914.16L1015.44,912.24L1019.96,910.29L1024.48,908.34L1029.01,906.36L1033.53,904.38L1038.06,902.38L1042.58,900.38L1047.1,898.38L1051.63,896.38L1056.15,894.38L1060.67,892.39L1065.2,890.39L1069.72,888.38L1074.25,886.37L1078.77,884.35L1083.29,882.32L1087.82,880.29L1092.34,878.24L1096.86,876.19L1101.39,874.13L1105.91,872.06L1110.44,869.98L1114.96,867.89L1119.48,865.79L1124.01,863.68L1128.53,861.56L1133.05,859.42L1137.58,857.27L1142.1,855.1L1146.63,852.92L1151.15,850.74L1155.67,848.54L1160.2,846.33L1164.72,844.12L1169.24,841.91L1173.77,839.69L1178.29,837.47L1182.82,835.25L1187.34,833.03L1191.86,830.81L1196.39,828.6L1200.91,826.38L1205.43,824.16L1209.96,821.94L1214.48,819.72L1219.01,817.49L1223.53,815.26L1228.05,813.03L1232.58,810.79L1237.1,808.55L1241.62,806.31L1246.15,804.07L1250.67,801.82L1255.2,799.57L1259.72,797.32L1264.24,795.07L1268.77,792.81L1273.29,790.55L1277.81,788.28L1282.34,786.01L1286.86,783.73L1291.39,781.46L1295.91,779.18L1300.43,776.9L1304.96,774.62L1309.48,772.34L1314,770.06L1318.53,767.78L1323.05,765.51L1327.58,763.23L1332.1,760.96L1336.62,758.68L1341.15,756.41L1345.67,754.14L1350.19,751.87L1354.72,749.59L1359.24,747.32L1363.77,745.05L1368.29,742.77L1372.81,740.5L1377.34,738.23L1381.86,735.95L1386.38,733.68L1390.91,731.41L1395.43,729.13L1399.96,726.86L1404.48,724.59L1409,722.31L1413.53,720.04L1418.05,717.77L1422.57,715.49L1427.1,713.22L1431.62,710.95L1436.15,708.67L1440.67,706.4L1445.19,704.13L1449.72,701.85L1454.24,699.58L1458.76,697.31L1463.29,695.04L1467.81,692.76L1472.34,690.49L1476.86,688.22L1481.38,685.94L1485.91,683.67L1490.43,681.4L1494.95,679.12L1499.48,676.85L1504,674.58L1508.53,672.3L1513.05,670.03L1517.57,667.76L1522.1,665.48L1526.62,663.21L1531.14,660.94L1535.67,658.66L1540.19,656.39L1544.72,654.12L1549.24,651.84L1553.76,649.57L1558.29,647.3L1562.81,645.03L1567.33,642.75L1571.86,640.48L1576.38,638.21L1580.91,635.93L1585.43,633.66L1589.95,631.39L1594.48,629.11L1599,626.84" stroke="#ff0000" stroke-width="8.3" stroke-dasharray="9.2 11.6"/>
<path d="M246.4,995.3L250.47,995.3L254.54,995.3L258.61,995.3L262.69,995.3L266.76,995.3L270.83,995.3L274.9,995.3L278.97,995.3L283.04,995.3L287.11,995.3L291.19,995.3L295.26,995.3L299.33,995.3L303.4,995.3L307.47,995.3L311.54,995.3L315.61,995.3L319.68,995.3L323.76,995.3L327.83,995.3L331.9,995.3L335.97,995.3L340.04,995.3L344.11,995.3L348.18,995.3L352.26,995.3L356.33,995.3L360.4,995.3L364.47,995.3L368.54,995.3L372.61,995.3L376.68,995.3L380.76,995.3L384.83,995.3L388.9,995.3L392.97,995.3L397.04,995.3L401.11,995.3L405.18,995.3L409.25,995.3L413.33,995.3L417.4,995.3L421.47,995.3L425.54,995.3L429.61,995.3L433.68,995.3L437.75,995.3L441.83,995.3L445.9,995.3L449.97,995.3L454.04,995.3L458.11,995.29L462.18,995.28L466.25,995.27L470.33,995.26L474.4,995.24L478.47,995.22L482.54,995.2L486.61,995.17L490.68,995.15L494.75,995.12L498.83,995.09L502.9,995.06L506.97,995.02L511.04,994.99L515.11,994.96L519.18,994.92L523.25,994.88L527.32,994.83L531.4,994.77L535.47,994.71L539.54,994.64L543.61,994.57L547.68,994.49L551.75,994.4L555.82,994.31L559.9,994.21L563.97,994.11L568.04,994L572.11,993.88L576.18,993.77L580.25,993.64L584.32,993.52L588.4,993.38L592.47,993.23L596.54,993.05L600.61,992.86L604.68,992.66L608.75,992.43L612.82,992.2L616.89,991.95L620.97,991.68L625.04,991.41L629.11,991.12L633.18,990.83L637.25,990.52L641.32,990.21L645.39,989.89L649.47,989.56L653.54,989.22L657.61,988.87L661.68,988.49L665.75,988.1L669.82,987.68L673.89,987.24L677.97,986.78L682.04,986.3L686.11,985.8L690.18,985.28L694.25,984.74L698.32,984.19L702.39,983.62L706.46,983.03L710.54,982.42L714.61,981.8L718.68,981.17L722.75,980.51L726.82,979.82L730.89,979.08L734.96,978.31L739.04,977.51L743.11,976.67L747.18,975.8L751.25,974.9L755.32,973.98L759.39,973.03L763.46,972.06L767.54,971.06L771.61,970.05L775.68,969.02L779.75,967.98L783.82,966.92L787.89,965.85L791.96,964.75L796.04,963.6L800.11,962.42L804.18,961.2L808.25,959.95L812.32,958.67L816.39,957.35L820.46,956.02L824.53,954.66L828.61,953.28L832.68,951.88L836.75,950.47L840.82,949.05L844.89,947.62L848.96,946.18L853.03,944.74L857.11,943.3L861.18,941.85L865.25,940.38L869.32,938.9L873.39,937.4L877.46,935.88L881.53,934.35L885.61,932.8L889.68,931.23L893.75,929.64L897.82,928.04L901.89,926.41L905.96,924.77L910.03,923.1L914.1,921.42L918.18,919.71L922.25,917.99L926.32,916.23L930.39,914.44L934.46,912.61L938.53,910.75L942.6,908.87L946.68,906.96L950.75,905.02L954.82,903.07L958.89,901.1L962.96,899.11L967.03,897.11L971.1,895.11L975.18,893.09L979.25,891.08L983.32,889.06L987.39,887.05L991.46,885.04L995.53,883.02L999.6,880.98L1003.68,878.93L1007.75,876.87L1011.82,874.79L1015.89,872.71L1019.96,870.62L1024.03,868.52L1028.1,866.42L1032.17,864.31L1036.25,862.21L1040.32,860.1L1044.39,858L1048.46,855.89L1052.53,853.8L1056.6,851.71L1060.67,849.63L1064.75,847.55L1068.82,845.48L1072.89,843.42L1076.96,841.35L1081.03,839.29L1085.1,837.22L1089.17,835.16L1093.25,833.09L1097.32,831.02L1101.39,828.94L1105.46,826.86L1109.53,824.77L1113.6,822.67L1117.67,820.56L1121.74,818.45L1125.82,816.32L1129.89,814.18L1133.96,812.03L1138.03,809.88L1142.1,807.72L1146.17,805.56L1150.24,803.39L1154.32,801.21L1158.39,799.02L1162.46,796.83L1166.53,794.63L1170.6,792.43L1174.67,790.22L1178.74,788L1182.82,785.78L1186.89,783.55L1190.96,781.31L1195.03,779.07L1199.1,776.82L1203.17,774.57L1207.24,772.3L1211.31,770.03L1215.39,767.76L1219.46,765.48L1223.53,763.19L1227.6,760.89L1231.67,758.59L1235.74,756.28L1239.81,753.97L1243.89,751.65L1247.96,749.32L1252.03,746.99L1256.1,744.65L1260.17,742.3L1264.24,739.95L1268.31,737.59L1272.39,735.23L1276.46,732.87L1280.53,730.5L1284.6,728.12L1288.67,725.74L1292.74,723.35L1296.81,720.95L1300.89,718.54L1304.96,716.13L1309.03,713.7L1313.1,711.26L1317.17,708.82L1321.24,706.36L1325.31,703.89L1329.38,701.41L1333.46,698.92L1337.53,696.41L1341.6,693.89L1345.67,691.35L1349.74,688.81L1353.81,686.25L1357.88,683.69L1361.96,681.11L1366.03,678.53L1370.1,675.94L1374.17,673.34L1378.24,670.74L1382.31,668.14L1386.38,665.52L1390.46,662.91L1394.53,660.29L1398.6,657.67L1402.67,655.05L1406.74,652.41L1410.81,649.77L1414.88,647.13L1418.95,644.48L1423.03,641.82L1427.1,639.16L1431.17,636.49L1435.24,633.81L1439.31,631.13L1443.38,628.44L1447.45,625.75L1451.53,623.05L1455.6,620.34L1459.67,617.63L1463.74,614.92" stroke="#ff0000" stroke-width="8.3" stroke-dasharray="30.2 11.4 9.2 11.6"/>
</g>
<line x1="1916.7" y1="448.9" x2="2116.4" y2="448.9" stroke="#000000" stroke-width="8.8"/>
<line x1="1916.7" y1="556.9" x2="2116.4" y2="556.9" stroke="#000000" stroke-width="8.8" stroke-dasharray="31.2 10.4"/>
<line x1="1916.7" y1="665" x2="2116.4" y2="665" stroke="#000000" stroke-width="8.8" stroke-dasharray="10.4 10.4"/>
<line x1="1916.7" y1="773.3" x2="2116.4" y2="773.3" stroke="#000000" stroke-width="8.8" stroke-dasharray="31.2 10.4 10.4 10.4"/>
</g>
<g filter="url(#crisp)">
<g stroke="#ff0000" fill="none">
<path d="M1599.4,159.65V996.6" stroke-width="2.7"/>
<path d="M1599.4,971.45h-10.2M1599.4,947.6h-10.2M1599.4,923.75h-10.2M1599.4,899.91h-10.2M1599.4,852.21h-10.2M1599.4,828.36h-10.2M1599.4,804.51h-10.2M1599.4,780.66h-10.2M1599.4,732.97h-10.2M1599.4,709.12h-10.2M1599.4,685.27h-10.2M1599.4,661.42h-10.2M1599.4,613.72h-10.2M1599.4,589.87h-10.2M1599.4,566.03h-10.2M1599.4,542.18h-10.2M1599.4,494.48h-10.2M1599.4,470.63h-10.2M1599.4,446.78h-10.2M1599.4,422.93h-10.2M1599.4,375.24h-10.2M1599.4,351.39h-10.2M1599.4,327.54h-10.2M1599.4,303.69h-10.2M1599.4,255.99h-10.2M1599.4,232.15h-10.2M1599.4,208.3h-10.2M1599.4,184.45h-10.2" stroke-opacity="0.85" stroke-width="2.6"/>
<path d="M1599.4,876.06h-17M1599.4,756.81h-17M1599.4,637.57h-17M1599.4,518.33h-17M1599.4,399.09h-17M1599.4,279.84h-17" stroke-opacity="0.6" stroke-width="5"/>
<path d="M1599.4,160.9h-17 M1599.4,995.35h-17" stroke-width="2.5"/>
</g>
<g font-size="52.5" fill="#000000">
<text x="231.5" y="1012.74" text-anchor="end">0</text>
<text x="231.5" y="893.49" text-anchor="end">20</text>
<text x="231.5" y="774.25" text-anchor="end">40</text>
<text x="231.5" y="655.01" text-anchor="end">60</text>
<text x="231.5" y="535.77" text-anchor="end">80</text>
<text x="231.5" y="416.52" text-anchor="end">100</text>
<text x="231.5" y="297.28" text-anchor="end">120</text>
<text x="231.5" y="178.04" text-anchor="end">140</text>
<text x="246.6" y="1058.2" text-anchor="middle">0.00</text>
<text x="517.12" y="1058.2" text-anchor="middle">0.01</text>
<text x="787.64" y="1058.2" text-anchor="middle">0.02</text>
<text x="1058.16" y="1058.2" text-anchor="middle">0.03</text>
<text x="1328.68" y="1058.2" text-anchor="middle">0.04</text>
<text x="1599.2" y="1058.2" text-anchor="middle">0.05</text>
</g>
<g font-size="52.5" fill="#ff0000">
<text x="1614.3" y="1012.64">23</text>
<text x="1614.3" y="893.39">24</text>
<text x="1614.3" y="774.15">25</text>
<text x="1614.3" y="654.91">26</text>
<text x="1614.3" y="535.67">27</text>
<text x="1614.3" y="416.42">28</text>
<text x="1614.3" y="297.18">29</text>
<text x="1614.3" y="177.94">30</text>
</g>
<g font-size="52.5" fill="#000000">
<text y="118.2"><tspan x="492.3">Homogenized, </tspan><tspan x="853.3">strain </tspan><tspan x="989.8">rate </tspan><tspan x="1099.5" dy="3.4" stroke="#000" stroke-width="0.9">= </tspan><tspan x="1151.6" dy="-3.4">1.0 </tspan><tspan x="1241">[</tspan><tspan x="1256.3" dy="3.6">−</tspan><tspan x="1292.5" dy="-3.6">/</tspan><tspan x="1312" font-style="italic">s</tspan><tspan x="1338">]</tspan></text>
<text transform="translate(847.6,1147.4) skewX(-4)" x="0" y="0" font-style="italic">ε</text>
<text y="1147.4"><tspan x="871.2" dy="11.4" font-size="45.5">yy </tspan><tspan x="938" dy="-11.4">[</tspan><tspan x="953.5" dy="3.6">−</tspan><tspan x="983.7" dy="-3.6">]</tspan></text>
<text transform="translate(84.3,695.4) rotate(-90) skewX(-5)" x="0" y="0" font-style="italic">σ</text>
<text transform="translate(84.3,693.6) rotate(-90)" y="0"><tspan x="31" dy="12.4" font-size="45.5">yy </tspan><tspan x="98" dy="-12.4">[MPa]</tspan></text>
</g>
<g font-size="52.5" fill="#ff0000">
<text transform="translate(1751.2,704.7) rotate(-90)" y="0"><tspan x="0" letter-spacing="1.2">Temp. </tspan><tspan x="164.8">[°C]</tspan></text>
</g>
<g font-size="58" fill="#000000">
<text x="2064" y="385" text-anchor="middle">Vf. [%]</text>
<text x="2149" y="468.79">30</text>
<text x="2149" y="576.79">40</text>
<text x="2149" y="684.89">50</text>
<text x="2149" y="793.19">60</text>
</g>
</g>
</svg></body></html>
